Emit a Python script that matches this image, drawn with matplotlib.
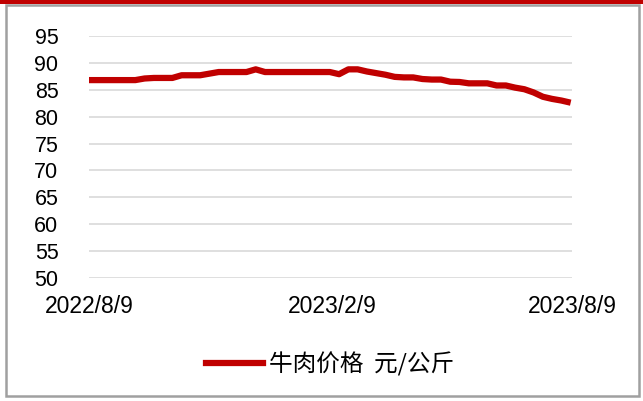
import matplotlib
matplotlib.use("Agg")
import matplotlib.pyplot as plt
import pandas as pd
from matplotlib.patches import Rectangle
from matplotlib.lines import Line2D

# weekly beef price, yuan/kg
dates = pd.date_range("2022-08-09", periods=53, freq="7D")
prices = [86.8, 86.8, 86.8, 86.8, 86.8, 86.8, 87.1, 87.2, 87.2, 87.2,
          87.7, 87.7, 87.7, 88.0, 88.3, 88.3, 88.3, 88.3, 88.8, 88.3,
          88.3, 88.3, 88.3, 88.3, 88.3, 88.3, 88.3, 87.9, 88.8, 88.8,
          88.4, 88.1, 87.8, 87.4, 87.3, 87.3, 87.0, 86.9, 86.9, 86.5,
          86.45, 86.2, 86.2, 86.2, 85.8, 85.8, 85.4, 85.1, 84.5, 83.7,
          83.3, 83.0, 82.6]
tick_dates = pd.to_datetime(["2022-08-09", "2023-02-09", "2023-08-09"])
tick_labels = ["2022/8/9", "2023/2/9", "2023/8/9"]
yticks = list(range(50, 100, 5))
legend_label = "牛肉价格  元/公斤"

red = "#C00000"
grid_c = "#D9D9D9"

fig = plt.figure(figsize=(6.43, 4.01), dpi=100)
W, H = 643, 401

# frame and top red band
fig.patches.append(Rectangle((6 / W, 5 / H), 633 / W, 391 / H, transform=fig.transFigure,
                             fill=False, edgecolor="#A0A0A0", linewidth=1.8))
fig.patches.append(Rectangle((0, 1 - 4 / H), 1, 4 / H, transform=fig.transFigure,
                             facecolor=red, edgecolor="none"))

ax = fig.add_axes([89 / W, 1 - 278 / H, 483 / W, 242 / H])
ax.plot(dates, prices, color=red, linewidth=4.5, solid_capstyle="butt", zorder=3)

ax.set_ylim(50, 95)
ax.set_yticks(yticks)
ax.set_xlim(tick_dates[0], tick_dates[-1])
ax.set_xticks(tick_dates)
ax.set_xticklabels(tick_labels)
ax.grid(axis="y", color=grid_c, linewidth=1.2, zorder=0)
for s in ax.spines.values():
    s.set_visible(False)
ax.tick_params(axis="y", length=0, pad=22, labelsize=15.5, labelfontfamily="Liberation Sans")
ax.tick_params(axis="x", length=0, pad=12, labelsize=16.5, labelfontfamily="Liberation Sans")

handle = Line2D([], [], color=red, linewidth=4.5)
fig.legend([handle], [legend_label], loc="center", bbox_to_anchor=(330 / W, 1 - 364 / H),
           frameon=False, handlelength=2.4, handletextpad=0.25,
           prop={"family": ["Noto Sans CJK SC", "DejaVu Sans"], "size": 17})

fig.savefig("out.png", dpi=100)
